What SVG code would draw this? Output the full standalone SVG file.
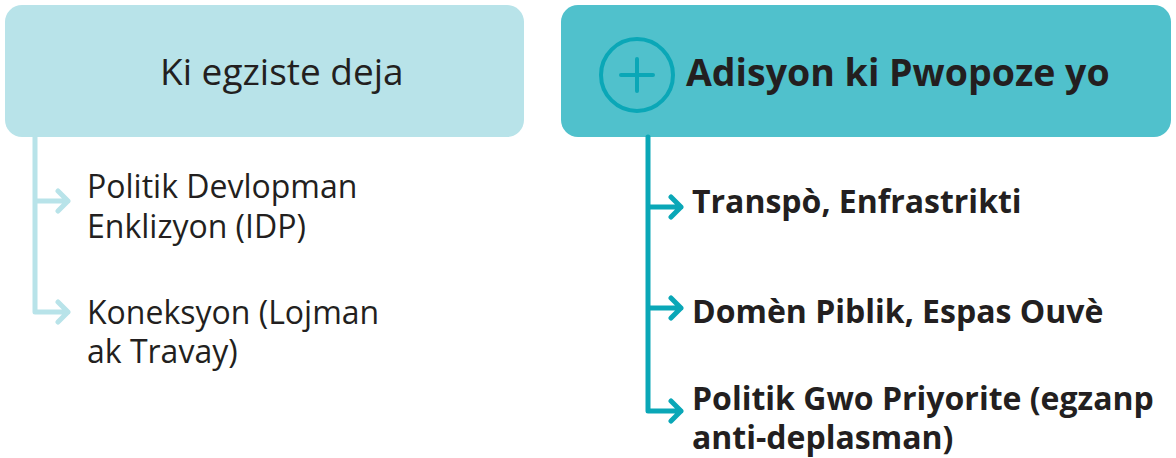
<svg xmlns="http://www.w3.org/2000/svg" width="1176" height="458" viewBox="0 0 1176 458">
<defs>
<style>
.t{font-family:"Open Sans","Noto Sans","Liberation Sans",sans-serif;fill:#231f20}
.h1{font-size:37px}
.h2{font-size:37.5px;font-weight:700}
.it{font-size:32px}
.ib{font-size:32px;font-weight:700}
.cl{stroke:#b8e3e9;stroke-width:5;fill:none;stroke-linecap:round;stroke-linejoin:round}
.cr{stroke:#0aa7b7;stroke-width:5;fill:none;stroke-linecap:round;stroke-linejoin:round}
</style>
</defs>
<rect width="1176" height="458" fill="#ffffff"/>
<g id="node-existing">
<rect x="5" y="5" width="519" height="132" rx="17" fill="#b8e3e9"/>
<text class="t h1" x="160" y="85">Ki egziste deja</text>
</g>
<g id="node-proposed">
<rect x="561" y="5" width="610" height="132" rx="17" fill="#50c1cc"/>
<circle cx="637" cy="75" r="36" fill="none" stroke="#0aa7b7" stroke-width="4"/>
<path d="M621 75H653M637 59V91" stroke="#0aa7b7" stroke-width="4" stroke-linecap="round"/>
<text class="t h2" x="686" y="86">Adisyon ki Pwopoze yo</text>
</g>
<g id="connectors">
<path class="cl" d="M35 137V312M35 201H68M58 191L68 201L58 211M35 312H68M58 302L68 312L58 322"/>
<path class="cr" d="M648 137V411M648 207H681M671 197L681 207L671 217M648 308H681M671 298L681 308L671 318M648 411H681M671 401L681 411L671 421"/>
</g>
<g id="item-idp">
<text class="t it" x="87" y="198">Politik Devlopman</text>
<text class="t it" x="87" y="238">Enklizyon (IDP)</text>
</g>
<g id="item-koneksyon">
<text class="t it" x="87" y="324">Koneksyon (Lojman</text>
<text class="t it" x="87" y="363">ak Travay)</text>
</g>
<g id="item-transpo">
<text class="t ib" x="692" y="213">Transpò, Enfrastrikti</text>
</g>
<g id="item-domen">
<text class="t ib" x="692" y="323">Domèn Piblik, Espas Ouvè</text>
</g>
<g id="item-politik">
<text class="t ib" x="692" y="410">Politik Gwo Priyorite (egzanp</text>
<text class="t ib" x="692" y="449">anti-deplasman)</text>
</g>
</svg>
